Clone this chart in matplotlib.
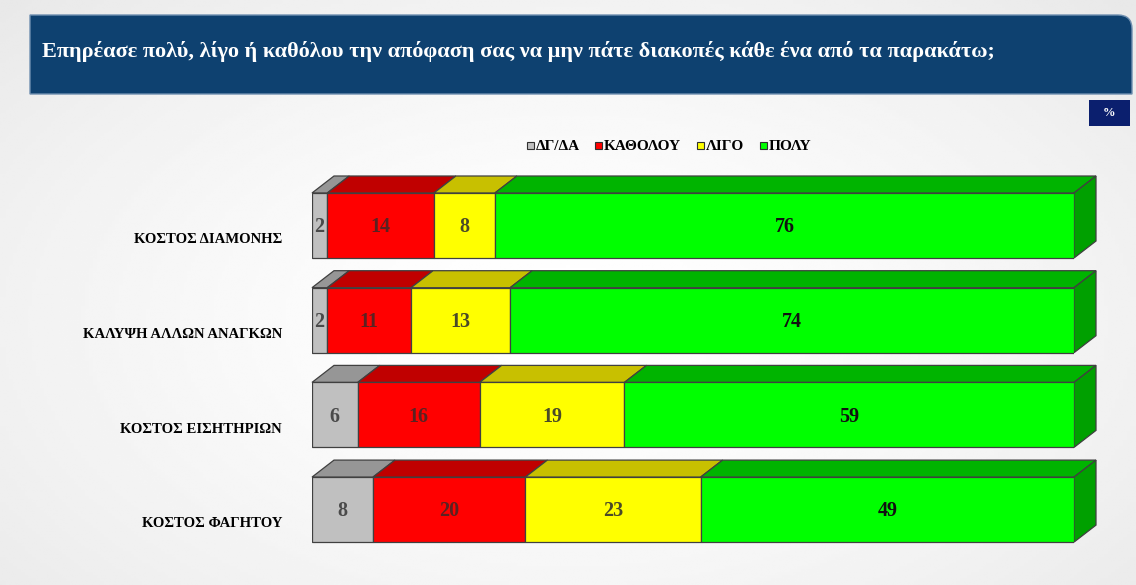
import numpy as np
import matplotlib
matplotlib.use("Agg")
import matplotlib.pyplot as plt
from matplotlib.patches import Polygon, Rectangle, PathPatch
from matplotlib.path import Path

# ---------------- data ----------------
title = "Επηρέασε πολύ, λίγο ή καθόλου την απόφαση σας να μην πάτε διακοπές κάθε ένα από τα παρακάτω;"
categories = ["ΚΟΣΤΟΣ ΔΙΑΜΟΝΗΣ", "ΚΑΛΥΨΗ ΑΛΛΩΝ ΑΝΑΓΚΩΝ", "ΚΟΣΤΟΣ ΕΙΣΗΤΗΡΙΩΝ", "ΚΟΣΤΟΣ ΦΑΓΗΤΟΥ"]
series_names = ["ΔΓ/ΔΑ", "ΚΑΘΟΛΟΥ", "ΛΙΓΟ", "ΠΟΛΥ"]
dk_na = [2, 2, 6, 8]
not_at_all = [14, 11, 16, 20]
a_little = [8, 13, 19, 23]
a_lot = [76, 74, 59, 49]
series_values = [dk_na, not_at_all, a_little, a_lot]

front_colors = ["#c0c0c0", "#ff0000", "#ffff00", "#00ff00"]
top_colors = ["#969696", "#c00000", "#c8c000", "#00b400"]
side_color = "#00a000"
label_colors = ["#4a4a4a", "#5a2222", "#4a4a28", "#111111"]

W, H = 1136, 585
fig = plt.figure(figsize=(W / 100, H / 100), dpi=100)

# background gradient
bg = fig.add_axes([0, 0, 1, 1])
bg.set_axis_off()
yy, xx = np.mgrid[0:1:200j, 0:1:300j]
r = np.sqrt(((xx - 0.5) / 0.75) ** 2 + ((yy - 0.55) / 0.85) ** 2)
bg.imshow(1 - 0.10 * np.clip(r, 0, 1) ** 1.5, cmap="gray", vmin=0, vmax=1,
          extent=[0, W, H, 0], aspect="auto", interpolation="bilinear")
bg.set_xlim(0, W)
bg.set_ylim(H, 0)

# title box with rounded top-right corner
x0, x1, y0, y1, rr = 30, 1132, 15, 94, 14
verts = [(x0, y0), (x1 - rr, y0), (x1, y0), (x1, y0 + rr), (x1, y1), (x0, y1), (x0, y0)]
codes = [Path.MOVETO, Path.LINETO, Path.CURVE3, Path.CURVE3, Path.LINETO, Path.LINETO, Path.CLOSEPOLY]
bg.add_patch(PathPatch(Path(verts, codes), facecolor="#0e4170", edgecolor="#6f8fb0", lw=1))
bg.text(42, 52, title, color="white", fontsize=16, fontweight="bold",
        family="Liberation Serif", va="center", ha="left")

# % box
bg.add_patch(Rectangle((1089, 100), 41, 26, facecolor="#0b1f6e", edgecolor="none"))
bg.text(1109.5, 113, "%", color="white", fontsize=9, fontweight="bold",
        family="Liberation Serif", ha="center", va="center")

# legend
lx = [527, 595, 697, 760]
for i, name in enumerate(series_names):
    bg.add_patch(Rectangle((lx[i], 142), 7, 7, facecolor=front_colors[i],
                           edgecolor="#303030", lw=0.8))
    bg.text(lx[i] + 9, 146, name, fontsize=11, fontweight="bold",
            family="Liberation Serif", va="center", ha="left", color="black")

# ---------------- bar chart ----------------
left_px, right_px = 312, 1074
top_px, bot_px = 160, 560
ax = fig.add_axes([left_px / W, 1 - bot_px / H, (right_px - left_px) / W, (bot_px - top_px) / H])
ax.set_axis_off()
ax.patch.set_visible(False)
ax.set_xlim(0, 100)
pitch = 94.7
c0 = 225.5
ax.set_ylim((bot_px - c0) / pitch, (top_px - c0) / pitch)

bh = 65 / pitch
dx = 22 / ((right_px - left_px) / 100)
dy = 17 / pitch
n = len(categories)
y = np.arange(n)
left = np.zeros(n)
edge = "#404040"
for s, vals in enumerate(series_values):
    vals = np.array(vals, dtype=float)
    ax.barh(y, vals, left=left, height=bh, color=front_colors[s],
            edgecolor=edge, linewidth=0.9, zorder=3)
    for i in range(n):
        a, b = left[i], left[i] + vals[i]
        yt = y[i] - bh / 2
        ax.add_patch(Polygon([(a, yt), (b, yt), (b + dx, yt - dy), (a + dx, yt - dy)],
                             closed=True, facecolor=top_colors[s], edgecolor=edge,
                             lw=0.9, zorder=2, clip_on=False))
        ax.text((a + b) / 2, y[i] + 0.02, f"{int(vals[i])}", ha="center", va="center",
                fontsize=14.5, fontweight="bold", family="Liberation Serif",
                color=label_colors[s], zorder=5)
    left = left + vals

for i in range(n):
    yt = y[i] - bh / 2
    yb = y[i] + bh / 2
    tot = left[i]
    ax.add_patch(Polygon([(tot, yt), (tot + dx, yt - dy), (tot + dx, yb - dy), (tot, yb)],
                         closed=True, facecolor=side_color, edgecolor=edge, lw=0.9,
                         zorder=2, clip_on=False))
    ax.text(-30 / 7.62, y[i] + 0.15, categories[i], ha="right", va="center",
            fontsize=10.6, fontweight="bold", family="Liberation Serif", color="black")

fig.savefig("out.png", dpi=100)
